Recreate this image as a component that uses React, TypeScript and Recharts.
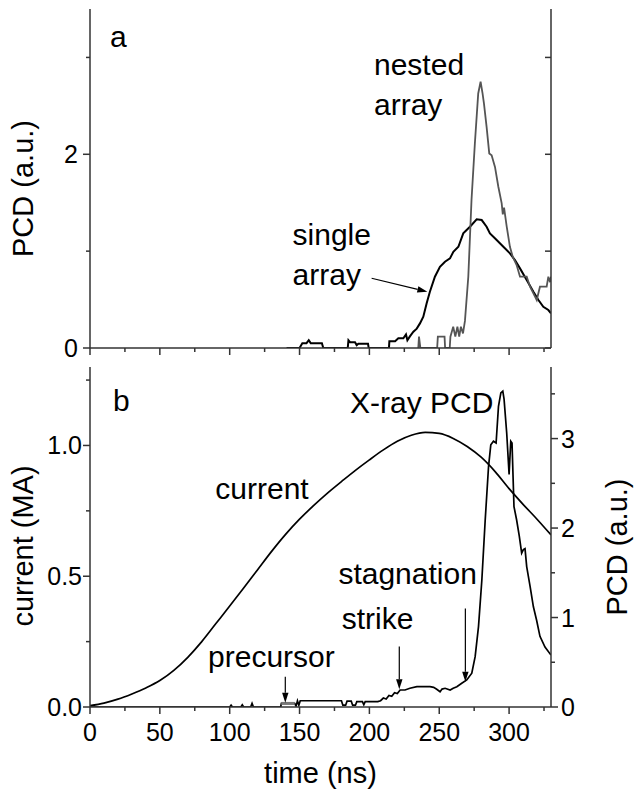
import React from 'react';
import { LineChart, Line, XAxis, YAxis, ReferenceDot, ReferenceLine } from 'recharts';

const FONT = '"Liberation Sans", Arial, Helvetica, sans-serif';
const AXIS = '#333';

// ---------- ticks ----------
const timeTicks = [0, 25, 50, 75, 100, 125, 150, 175, 200, 225, 250, 275, 300, 325];
const timeLabels = [0, 50, 100, 150, 200, 250, 300];
const topPcdTicks = [0, 1, 2, 3];
const topPcdLabels = [0, 2];
const currentTicks = [0, 0.25, 0.5, 0.75, 1, 1.25];
const currentLabels = [0, 0.5, 1];
const rightPcdTicks = [0, 0.5, 1, 1.5, 2, 2.5, 3, 3.5];
const rightPcdLabels = [0, 1, 2, 3];

// ---------- panel a: PCD signals [time ns, PCD a.u.] ----------
const singleArray: number[][] = [
  [140.7, 0], [149, 0], [150, 0], [152, 0.05], [155, 0.05], [156.6, 0.08], [158, 0.05], [166, 0.05], [167, 0],
  [184.5, 0], [185, 0.08], [186.1, 0.06], [189.7, 0.06], [190.9, 0.03], [192.1, 0.045], [199, 0.045], [199.5, 0],
  [214, 0], [214.3, 0.07], [218.4, 0.07], [220.7, 0.1], [224.3, 0.1], [226.2, 0.14], [227.2, 0.08], [229, 0.12],
  [231.5, 0.168], [233.9, 0.2], [236.2, 0.254], [238.6, 0.323], [241, 0.461], [243.3, 0.581], [246.9, 0.736],
  [250.5, 0.839], [254.1, 0.891], [257.7, 0.925], [260.1, 0.994], [263.7, 1.045], [267.2, 1.183], [269.6, 1.218],
  [272, 1.252], [276.8, 1.328], [280.4, 1.321], [283.9, 1.252], [286.3, 1.183], [291.1, 1.115], [295.9, 1.045],
  [300.6, 0.977], [304.2, 0.908], [307.8, 0.822], [312.6, 0.702], [317.4, 0.581], [321, 0.495], [324.5, 0.426],
  [328.1, 0.392], [330, 0.358],
];

const nestedArray: number[][] = [
  [235, 0], [235.5, 0.117], [236.5, 0], [248.5, 0], [249, 0.117], [253.8, 0.117], [254.2, 0], [257.5, 0],
  [258, 0.117], [260, 0.22], [261.5, 0.117], [263, 0.22], [264.3, 0.117], [265.5, 0.22], [267, 0.15],
  [268.4, 0.28], [270.8, 0.736], [273.1, 1.528], [275.5, 2.112], [277.9, 2.628], [279.6, 2.749], [281, 2.628],
  [282, 2.525], [283.9, 2.284], [285.8, 2.009], [287.5, 1.99], [289.9, 1.87], [292.3, 1.665], [294.7, 1.493],
  [295.5, 1.38], [296.4, 1.45], [298.3, 1.252], [300.6, 1.045], [302.6, 0.942], [305.4, 0.856], [307.8, 0.736],
  [312.6, 0.736], [315, 0.633], [317.4, 0.564], [319.8, 0.495], [322.1, 0.633], [326.9, 0.633], [328.1, 0.736],
  [329.3, 0.68], [330, 0.736],
];

// ---------- panel b: current [ns, MA] and X-ray PCD [ns, a.u.] ----------
const current: number[][] = [
  [0, 0.005], [10, 0.015], [20, 0.03], [30, 0.05], [40, 0.073], [50, 0.101], [60, 0.14], [70, 0.19],
  [80, 0.25], [90, 0.318], [100, 0.386], [110, 0.455], [120, 0.525], [130, 0.595], [140, 0.66], [150, 0.718],
  [160, 0.77], [170, 0.818], [180, 0.862], [190, 0.905], [200, 0.945], [210, 0.983], [220, 1.016], [230, 1.039],
  [240, 1.05], [250, 1.046], [260, 1.027], [270, 0.996], [280, 0.955], [290, 0.9], [300, 0.835], [310, 0.775],
  [320, 0.718], [330, 0.658],
];

const xray: number[][] = [
  [0, 0], [100, 0], [101, 0.02], [102, 0], [108, 0], [109, 0.025], [110, 0], [115, 0], [116, 0.04], [117, 0],
  [136.5, 0], [137, 0.04], [146.5, 0.04], [147.5, 0.01], [148.5, 0.07], [149.5, 0.02], [150.5, 0.07], [180, 0.07],
  [181, 0.02], [183, 0.02], [184, 0.065], [187, 0.065], [188, 0.02], [190, 0.02], [191, 0.06], [195, 0.06],
  [196, 0.025], [197, 0.06], [206, 0.06], [208, 0.07], [210, 0.1], [212, 0.09], [214, 0.13], [216, 0.12],
  [218, 0.16], [220, 0.15], [222, 0.19], [225.5, 0.19], [229, 0.21], [234, 0.227], [243.4, 0.227], [246, 0.22],
  [248.2, 0.198], [250.6, 0.171], [252, 0.2], [254.2, 0.209], [257.8, 0.19], [260, 0.21], [262.6, 0.227],
  [266.1, 0.265], [269.7, 0.302], [273.3, 0.377], [275.7, 0.563], [278.1, 0.898], [280.5, 1.42], [282.9, 2.09],
  [285.3, 2.69], [286.9, 2.93], [288.8, 2.97], [290.7, 2.95], [292.4, 3.36], [294.1, 3.51], [295.5, 3.53],
  [296.4, 3.44], [298.3, 3.06], [300, 2.6], [301.2, 2.97], [302.1, 2.95], [303.5, 2.24], [305.4, 2.09],
  [307.3, 1.91], [309, 1.72], [310.2, 1.76], [311.4, 1.77], [312.6, 1.57], [315, 1.35], [317.4, 1.12],
  [319.7, 0.97], [322.1, 0.79], [325.7, 0.67], [330, 0.58],
];

const precursorSegment: number[][] = [[136.9, 0.04], [146.5, 0.04]];

// ---------- annotations (data coordinates) ----------
const topNotes = [
  { text: 'a', t: 14.3, v: 3.108 },
  { text: 'nested', t: 203.3, v: 2.818 },
  { text: 'array', t: 203.3, v: 2.406 },
  { text: 'single', t: 145, v: 1.063 },
  { text: 'array', t: 145, v: 0.65 },
];
const topArrows = [{ t1: 201.6, v1: 0.72, t2: 241.5, v2: 0.581 }];

const bottomNotes = [
  { text: 'b', t: 16.5, v: 1.133 },
  { text: 'current', t: 89.7, v: 0.794 },
  { text: 'precursor', t: 84.5, v: 0.152 },
  { text: 'X-ray PCD', t: 186.1, v: 1.123 },
  { text: 'stagnation', t: 177.8, v: 0.47 },
  { text: 'strike', t: 180.2, v: 0.297 },
];
const bottomArrows = [
  { t1: 139.8, v1: 0.116, t2: 139.8, v2: 0.0165 },
  { t1: 221.4, v1: 0.231, t2: 221.4, v2: 0.068 },
  { t1: 268.7, v1: 0.377, t2: 268.7, v2: 0.097 },
];

const toRows = (arr: number[][]) => arr.map(([t, v]) => ({ t, v }));

// ---------- tick renderers ----------
const XTickOut = (p: any) => {
  const { x, y, payload, labels } = p;
  const val = payload.value;
  const major = timeLabels.includes(val);
  return (
    <g>
      <line x1={x} y1={y} x2={x} y2={y + (major ? 7 : 4)} stroke={AXIS} strokeWidth={1.5} />
      {labels && major ? (
        <text x={x} y={y + 34} textAnchor="middle" fontSize={25} fontFamily={FONT} fill="#000">
          {val}
        </text>
      ) : null}
    </g>
  );
};

const XTickIn = (p: any) => {
  const { x, y } = p;
  return <line x1={x} y1={y} x2={x} y2={y + 6} stroke={AXIS} strokeWidth={1.5} />;
};

const YTickLeft = (p: any) => {
  const { x, y, payload, labels, fmt, gap } = p;
  const val = payload.value;
  const major = labels.includes(val);
  return (
    <g>
      <line x1={x - (major ? 7 : 4)} y1={y} x2={x} y2={y} stroke={AXIS} strokeWidth={1.5} />
      {major ? (
        <text x={x - gap} y={y + 9} textAnchor="end" fontSize={25} fontFamily={FONT} fill="#000">
          {fmt(val)}
        </text>
      ) : null}
    </g>
  );
};

const YTickRightOut = (p: any) => {
  const { x, y, payload } = p;
  const val = payload.value;
  const major = rightPcdLabels.includes(val);
  return (
    <g>
      <line x1={x} y1={y} x2={x + (major ? 7 : 4)} y2={y} stroke={AXIS} strokeWidth={1.5} />
      {major ? (
        <text x={x + 10} y={y + 9} textAnchor="start" fontSize={25} fontFamily={FONT} fill="#000">
          {val}
        </text>
      ) : null}
    </g>
  );
};

const YTickRightIn = (p: any) => {
  const { x, y } = p;
  return <line x1={x - 6} y1={y} x2={x} y2={y} stroke={AXIS} strokeWidth={1.5} />;
};

// ---------- labels ----------
const VerticalTitle = (text: string, dx: number, dy: number) => (p: any) => {
  const vb = p.viewBox;
  const cx = vb.x + dx;
  const cy = vb.y + vb.height / 2 + dy;
  return (
    <text
      x={cx}
      y={cy}
      transform={`rotate(-90, ${cx}, ${cy})`}
      textAnchor="middle"
      fontSize={29}
      fontFamily={FONT}
      fill="#000"
    >
      {text}
    </text>
  );
};

const TimeTitle = (p: any) => {
  const vb = p.viewBox;
  return (
    <text x={vb.x + vb.width / 2} y={vb.y + 76} textAnchor="middle" fontSize={29} fontFamily={FONT} fill="#000">
      time (ns)
    </text>
  );
};

const noteShape = (text: string) => (p: any) => (
  <text x={p.cx} y={p.cy} fontSize={30} fontFamily={FONT} fill="#000">
    {text}
  </text>
);

const ArrowShape = (p: any) => {
  const { x1, y1, x2, y2 } = p;
  const dx = x2 - x1;
  const dy = y2 - y1;
  const L = Math.hypot(dx, dy) || 1;
  const ux = dx / L;
  const uy = dy / L;
  const hl = 10;
  const hw = 3.2;
  const bx = x2 - ux * hl;
  const by = y2 - uy * hl;
  const pts = `${x2},${y2} ${bx - uy * hw},${by + ux * hw} ${bx + uy * hw},${by - ux * hw}`;
  return (
    <g>
      <line x1={x1} y1={y1} x2={bx} y2={by} stroke="#000" strokeWidth={1.2} />
      <polygon points={pts} fill="#000" />
    </g>
  );
};

const axisLineStyle = { stroke: AXIS, strokeWidth: 1.5 };

export default function App() {
  return (
    <div style={{ position: 'absolute', left: 0, top: 0, width: 636, height: 793, background: '#fff' }}>
      <div style={{ position: 'absolute', left: 0, top: 360 }}>
        <LineChart width={636} height={433} margin={{ top: 7, right: 0, bottom: 0, left: 0 }}>
          <XAxis
            xAxisId="b"
            type="number"
            dataKey="t"
            domain={[0, 330]}
            ticks={timeTicks}
            interval={0}
            allowDataOverflow
            height={86}
            tickSize={0}
            tickMargin={0}
            tickLine={false}
            axisLine={axisLineStyle}
            tick={(p: any) => <XTickOut {...p} labels={true} />}
            label={{ content: TimeTitle }}
          />
          <XAxis
            xAxisId="t"
            orientation="top"
            type="number"
            dataKey="t"
            domain={[0, 330]}
            ticks={timeTicks}
            interval={0}
            allowDataOverflow
            height={0}
            tickSize={0}
            tickMargin={0}
            tickLine={false}
            axisLine={axisLineStyle}
            tick={(p: any) => <XTickIn {...p} />}
          />
          <YAxis
            yAxisId="l"
            type="number"
            domain={[0, 1.3]}
            ticks={currentTicks}
            interval={0}
            allowDataOverflow
            width={90}
            tickSize={0}
            tickMargin={0}
            tickLine={false}
            axisLine={axisLineStyle}
            tick={(p: any) => <YTickLeft {...p} labels={currentLabels} fmt={(v: number) => v.toFixed(1)} gap={8} />}
            label={{ content: VerticalTitle('current (MA)', 33, 9) }}
          />
          <YAxis
            yAxisId="r"
            orientation="right"
            type="number"
            domain={[0, 3.8]}
            ticks={rightPcdTicks}
            interval={0}
            allowDataOverflow
            width={85}
            tickSize={0}
            tickMargin={0}
            tickLine={false}
            axisLine={axisLineStyle}
            tick={(p: any) => <YTickRightOut {...p} />}
            label={{ content: VerticalTitle('PCD (a.u.)', 76, 10) }}
          />
          <Line
            xAxisId="b"
            yAxisId="l"
            data={toRows(current)}
            dataKey="v"
            type="monotone"
            stroke="#000"
            strokeWidth={1.7}
            dot={false}
            activeDot={false}
            isAnimationActive={false}
          />
          <Line
            xAxisId="t"
            yAxisId="r"
            data={toRows(xray)}
            dataKey="v"
            type="linear"
            stroke="#000"
            strokeWidth={1.7}
            dot={false}
            activeDot={false}
            isAnimationActive={false}
          />
          <Line
            xAxisId="t"
            yAxisId="r"
            data={toRows(precursorSegment)}
            dataKey="v"
            type="linear"
            stroke="#777"
            strokeWidth={3}
            dot={false}
            activeDot={false}
            isAnimationActive={false}
          />
          {bottomNotes.map((n, i) => (
            <ReferenceDot
              key={'bn' + i}
              xAxisId="b"
              yAxisId="l"
              x={n.t}
              y={n.v}
              r={0}
              shape={noteShape(n.text)}
            />
          ))}
          {bottomArrows.map((a, i) => (
            <ReferenceLine
              key={'ba' + i}
              xAxisId="b"
              yAxisId="l"
              segment={[{ x: a.t1, y: a.v1 }, { x: a.t2, y: a.v2 }]}
              shape={ArrowShape}
            />
          ))}
        </LineChart>
      </div>

      <div style={{ position: 'absolute', left: 0, top: 0 }}>
        <LineChart width={636} height={366} margin={{ top: 9, right: 0, bottom: 0, left: 0 }}>
          <XAxis
            xAxisId="b"
            type="number"
            dataKey="t"
            domain={[0, 330]}
            ticks={timeTicks}
            interval={0}
            allowDataOverflow
            height={18}
            tickSize={0}
            tickMargin={0}
            tickLine={false}
            axisLine={axisLineStyle}
            tick={(p: any) => <XTickOut {...p} labels={false} />}
          />
          <XAxis
            xAxisId="t"
            orientation="top"
            type="number"
            dataKey="t"
            domain={[0, 330]}
            ticks={timeTicks}
            interval={0}
            allowDataOverflow
            height={0}
            tickSize={0}
            tickMargin={0}
            tickLine={false}
            axisLine={axisLineStyle}
            tick={(p: any) => <XTickIn {...p} />}
          />
          <YAxis
            yAxisId="l"
            type="number"
            domain={[0, 3.5]}
            ticks={topPcdTicks}
            interval={0}
            allowDataOverflow
            width={90}
            tickSize={0}
            tickMargin={0}
            tickLine={false}
            axisLine={axisLineStyle}
            tick={(p: any) => <YTickLeft {...p} labels={topPcdLabels} fmt={(v: number) => String(v)} gap={12} />}
            label={{ content: VerticalTitle('PCD (a.u.)', 33, 10) }}
          />
          <YAxis
            yAxisId="r"
            orientation="right"
            type="number"
            domain={[0, 3.5]}
            ticks={topPcdTicks}
            interval={0}
            allowDataOverflow
            width={85}
            tickSize={0}
            tickMargin={0}
            tickLine={false}
            axisLine={axisLineStyle}
            tick={(p: any) => <YTickRightIn {...p} />}
          />
          <Line
            xAxisId="b"
            yAxisId="l"
            data={toRows(singleArray)}
            dataKey="v"
            type="linear"
            stroke="#000"
            strokeWidth={2}
            dot={false}
            activeDot={false}
            isAnimationActive={false}
          />
          <Line
            xAxisId="t"
            yAxisId="r"
            data={toRows(nestedArray)}
            dataKey="v"
            type="linear"
            stroke="#555"
            strokeWidth={1.8}
            dot={false}
            activeDot={false}
            isAnimationActive={false}
          />
          {topNotes.map((n, i) => (
            <ReferenceDot
              key={'tn' + i}
              xAxisId="b"
              yAxisId="l"
              x={n.t}
              y={n.v}
              r={0}
              shape={noteShape(n.text)}
            />
          ))}
          {topArrows.map((a, i) => (
            <ReferenceLine
              key={'ta' + i}
              xAxisId="b"
              yAxisId="l"
              segment={[{ x: a.t1, y: a.v1 }, { x: a.t2, y: a.v2 }]}
              shape={ArrowShape}
            />
          ))}
        </LineChart>
      </div>
    </div>
  );
}
